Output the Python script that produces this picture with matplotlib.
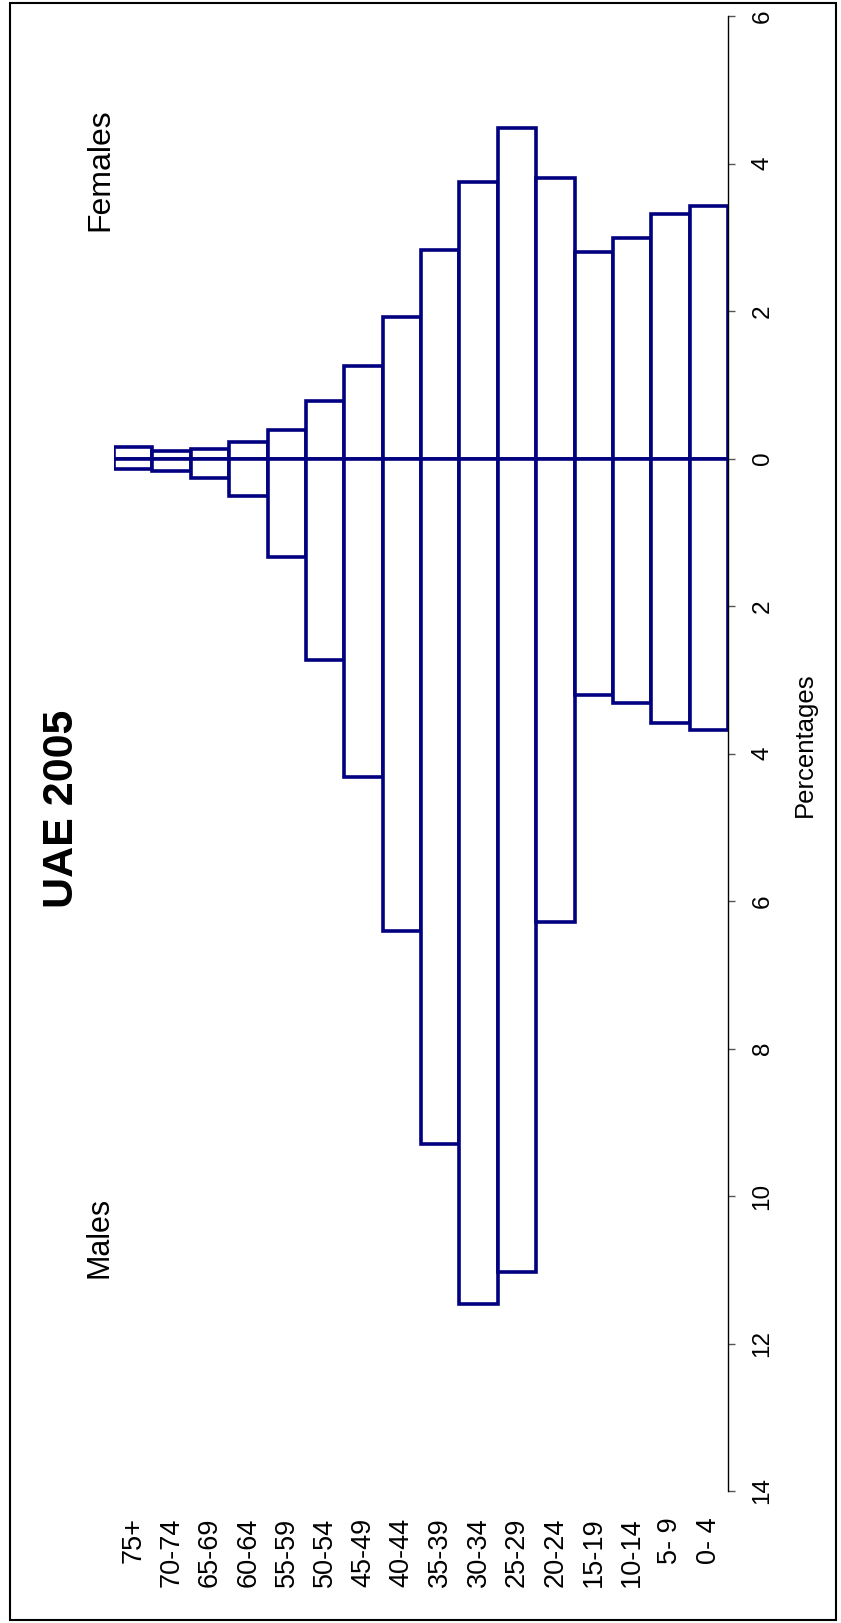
import matplotlib
matplotlib.use('Agg')
import matplotlib.pyplot as plt
import matplotlib.patches as mpatches
import numpy as np

plt.rcParams['font.family'] = ['Liberation Sans', 'DejaVu Sans']

# ------------------------------------------------------------
# Data (percent of total population), oldest group first
# ------------------------------------------------------------
age_groups = ['75+', '70-74', '65-69', '60-64', '55-59', '50-54', '45-49', '40-44',
              '35-39', '30-34', '25-29', '20-24', '15-19', '10-14', '5- 9', '0- 4']
females = [0.16, 0.10, 0.13, 0.22, 0.38, 0.78, 1.25, 1.92,
           2.83, 3.75, 4.48, 3.81, 2.80, 2.99, 3.31, 3.43]
males = [0.14, 0.17, 0.26, 0.51, 1.33, 2.73, 4.32, 6.41,
         9.30, 11.46, 11.03, 6.29, 3.21, 3.31, 3.58, 3.68]
pct_ticks = [-14, -12, -10, -8, -6, -4, -2, 0, 2, 4, 6]

navy = '#000080'

W, H = 841, 1623
fig = plt.figure(figsize=(W / 100, H / 100), dpi=100)

# axes placed in pixel terms (page is drawn rotated by 90 degrees)
left, right = 114, 728
top, bottom = 16, 1491
ax = fig.add_axes([left / W, 1 - bottom / H, (right - left) / W, (bottom - top) / H])

x = np.arange(len(age_groups))
ax.bar(x, females, width=1.0, bottom=0, facecolor='white', edgecolor=navy, linewidth=2.6)
ax.bar(x, -np.array(males), width=1.0, bottom=0, facecolor='white', edgecolor=navy, linewidth=2.6)

ax.set_xlim(-0.5, len(age_groups) - 0.5)
ax.set_ylim(-14, 6)

for s in ['left', 'top', 'bottom']:
    ax.spines[s].set_visible(False)
ax.spines['right'].set_linewidth(1.0)
ax.spines['right'].set_color('black')

ax.yaxis.tick_right()
ax.set_yticks(pct_ticks)
ax.set_yticklabels([str(abs(t)) for t in pct_ticks], rotation=90, va='center', fontsize=17.5)
ax.tick_params(axis='y', direction='out', length=5, width=1, color='#555555', pad=12)

ax.set_xticks(x)
ax.set_xticklabels(age_groups, rotation=90, fontsize=19.5)
ax.tick_params(axis='x', length=0, pad=19)

# texts (rotated page)
fig.text(62 / W, 1 - 809 / H, 'UAE 2005', rotation=90, fontsize=31, fontweight='bold',
         ha='center', va='center')
fig.text(100 / W, 1 - 170 / H, 'Females', rotation=90, fontsize=23, ha='center', va='center')
fig.text(100 / W, 1 - 1237 / H, 'Males', rotation=90, fontsize=22, ha='center', va='center')
fig.text(805 / W, 1 - 745 / H, 'Percentages', rotation=90, fontsize=18.5, ha='center', va='center')

# page border
border = mpatches.Rectangle((10 / W, 1 - 1620 / H), (836 - 10) / W, (1620 - 3) / H,
                            transform=fig.transFigure, fill=False, edgecolor='black', linewidth=1.5)
fig.add_artist(border)

fig.savefig('out.png', dpi=100)
